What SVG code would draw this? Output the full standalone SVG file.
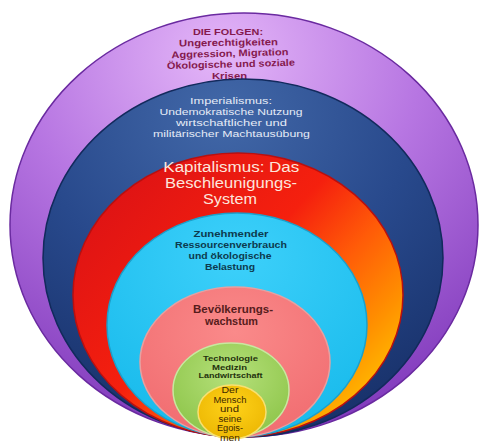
<svg xmlns="http://www.w3.org/2000/svg" width="484" height="441" viewBox="0 0 484 441">
<style>
text{font-family:"Liberation Sans",Arial,sans-serif;text-anchor:middle}
.rim{stroke-width:1.5}
.t1{font-size:9.6px;fill:#851a4e;font-weight:bold}
.t2{font-size:9.9px;fill:#e6ecf7}
.t3{font-size:14px;fill:#fde6dc}
.t4{font-size:9.8px;fill:#0d3a4e;font-weight:bold}
.t5{font-size:10px;fill:#561c1c;font-weight:bold}
.t6{font-size:7.6px;fill:#24320e;font-weight:bold}
.t7{font-size:8.4px;fill:#3e2800}
</style>
<defs>
<radialGradient id="gPurple" cx="0.45" cy="0.1" r="0.95">
<stop offset="0" stop-color="#e4b6f8"/>
<stop offset="0.45" stop-color="#b776e2"/>
<stop offset="1" stop-color="#7b34b8"/>
</radialGradient>
<radialGradient id="gNavy" cx="0.45" cy="0.1" r="0.95">
<stop offset="0" stop-color="#4268a8"/>
<stop offset="0.5" stop-color="#28498c"/>
<stop offset="1" stop-color="#162e66"/>
</radialGradient>
<linearGradient id="gRed" x1="0.1" y1="0.2" x2="0.95" y2="0.9">
<stop offset="0" stop-color="#e01414"/>
<stop offset="0.4" stop-color="#f5200e"/>
<stop offset="0.6" stop-color="#ff5a08"/>
<stop offset="0.8" stop-color="#ff9000"/>
<stop offset="1" stop-color="#ffcc00"/>
</linearGradient>
<radialGradient id="gCyan" cx="0.5" cy="0.2" r="0.9">
<stop offset="0" stop-color="#3dd0fa"/>
<stop offset="1" stop-color="#14b8ea"/>
</radialGradient>
<radialGradient id="gPink" cx="0.5" cy="0.3" r="0.8">
<stop offset="0" stop-color="#fa8a8a"/>
<stop offset="1" stop-color="#f06a6e"/>
</radialGradient>
<radialGradient id="gGreen" cx="0.5" cy="0.35" r="0.7">
<stop offset="0" stop-color="#b5e07a"/>
<stop offset="1" stop-color="#8cc448"/>
</radialGradient>
<radialGradient id="gYellow" cx="0.5" cy="0.4" r="0.7">
<stop offset="0" stop-color="#ffd21a"/>
<stop offset="1" stop-color="#eab400"/>
</radialGradient>
</defs>
<rect width="484" height="441" fill="#ffffff"/>
<g id="folgen">
<ellipse cx="244" cy="225" rx="234" ry="212" fill="url(#gPurple)" stroke="#6a2aa0" class="rim"/>
<text class="t1" x="228" y="35" textLength="70" lengthAdjust="spacingAndGlyphs">DIE FOLGEN:</text>
<text class="t1" x="228.5" y="45.8" textLength="99" lengthAdjust="spacingAndGlyphs" transform="rotate(-0.8 228.5 45.8)">Ungerechtigkeiten</text>
<text class="t1" x="230" y="56.6" textLength="117" lengthAdjust="spacingAndGlyphs" transform="rotate(-1.5 230 56.6)">Aggression, Migration</text>
<text class="t1" x="231" y="67.4" textLength="128" lengthAdjust="spacingAndGlyphs" transform="rotate(-1.5 231 67.4)">Ökologische und soziale</text>
<text class="t1" x="229.5" y="78.6" textLength="35" lengthAdjust="spacingAndGlyphs">Krisen</text>
</g>
<g id="imperialismus">
<ellipse cx="243" cy="258" rx="200" ry="179" fill="url(#gNavy)" stroke="#122a5c" class="rim"/>
<text class="t2" x="231" y="104" textLength="82" lengthAdjust="spacingAndGlyphs">Imperialismus:</text>
<text class="t2" x="231" y="115.1" textLength="143" lengthAdjust="spacingAndGlyphs">Undemokratische Nutzung</text>
<text class="t2" x="231.5" y="126.2" textLength="111" lengthAdjust="spacingAndGlyphs">wirtschaftlicher und</text>
<text class="t2" x="231.5" y="137.3" textLength="157" lengthAdjust="spacingAndGlyphs">militärischer Machtausübung</text>
</g>
<g id="kapitalismus">
<ellipse cx="238" cy="295" rx="165" ry="142" fill="url(#gRed)" stroke="#b81010" class="rim"/>
<text class="t3" x="231.3" y="171.5" textLength="136" lengthAdjust="spacingAndGlyphs">Kapitalismus: Das</text>
<text class="t3" x="231" y="187.5" textLength="132" lengthAdjust="spacingAndGlyphs">Beschleunigungs-</text>
<text class="t3" x="230" y="203.5" textLength="54" lengthAdjust="spacingAndGlyphs">System</text>
</g>
<g id="ressourcen">
<ellipse cx="237" cy="325" rx="130" ry="112" fill="url(#gCyan)" stroke="#1aa0cc" class="rim"/>
<text class="t4" x="231" y="236.5" textLength="75" lengthAdjust="spacingAndGlyphs">Zunehmender</text>
<text class="t4" x="231" y="247.5" textLength="112" lengthAdjust="spacingAndGlyphs">Ressourcenverbrauch</text>
<text class="t4" x="230" y="258.5" textLength="83" lengthAdjust="spacingAndGlyphs">und ökologische</text>
<text class="t4" x="230" y="269.5" textLength="50" lengthAdjust="spacingAndGlyphs">Belastung</text>
</g>
<g id="bevoelkerung">
<ellipse cx="235" cy="362" rx="95" ry="75" fill="url(#gPink)" stroke="#e8a0a0" class="rim"/>
<text class="t5" x="233" y="313" textLength="80" lengthAdjust="spacingAndGlyphs">Bevölkerungs-</text>
<text class="t5" x="231.5" y="324.5" textLength="53" lengthAdjust="spacingAndGlyphs">wachstum</text>
</g>
<g id="technologie">
<ellipse cx="231" cy="390" rx="58" ry="47" fill="url(#gGreen)" stroke="#c8e8a0" class="rim"/>
<text class="t6" x="230.5" y="361" textLength="55" lengthAdjust="spacingAndGlyphs">Technologie</text>
<text class="t6" x="229.5" y="369.6" textLength="35" lengthAdjust="spacingAndGlyphs">Medizin</text>
<text class="t6" x="230.5" y="378.2" textLength="64" lengthAdjust="spacingAndGlyphs">Landwirtschaft</text>
</g>
<g id="mensch">
<ellipse cx="232" cy="412" rx="34" ry="27" fill="url(#gYellow)" stroke="#f8e070" class="rim"/>
<text class="t7" x="230" y="393" textLength="17" lengthAdjust="spacingAndGlyphs">Der</text>
<text class="t7" x="230" y="402.5" textLength="33" lengthAdjust="spacingAndGlyphs">Mensch</text>
<text class="t7" x="229.5" y="412" textLength="19" lengthAdjust="spacingAndGlyphs">und</text>
<text class="t7" x="230" y="421.5" textLength="23" lengthAdjust="spacingAndGlyphs">seine</text>
<text class="t7" x="230" y="431" textLength="26" lengthAdjust="spacingAndGlyphs">Egois-</text>
<text class="t7" x="230" y="440.5" textLength="20" lengthAdjust="spacingAndGlyphs">men</text>
</g>
</svg>
